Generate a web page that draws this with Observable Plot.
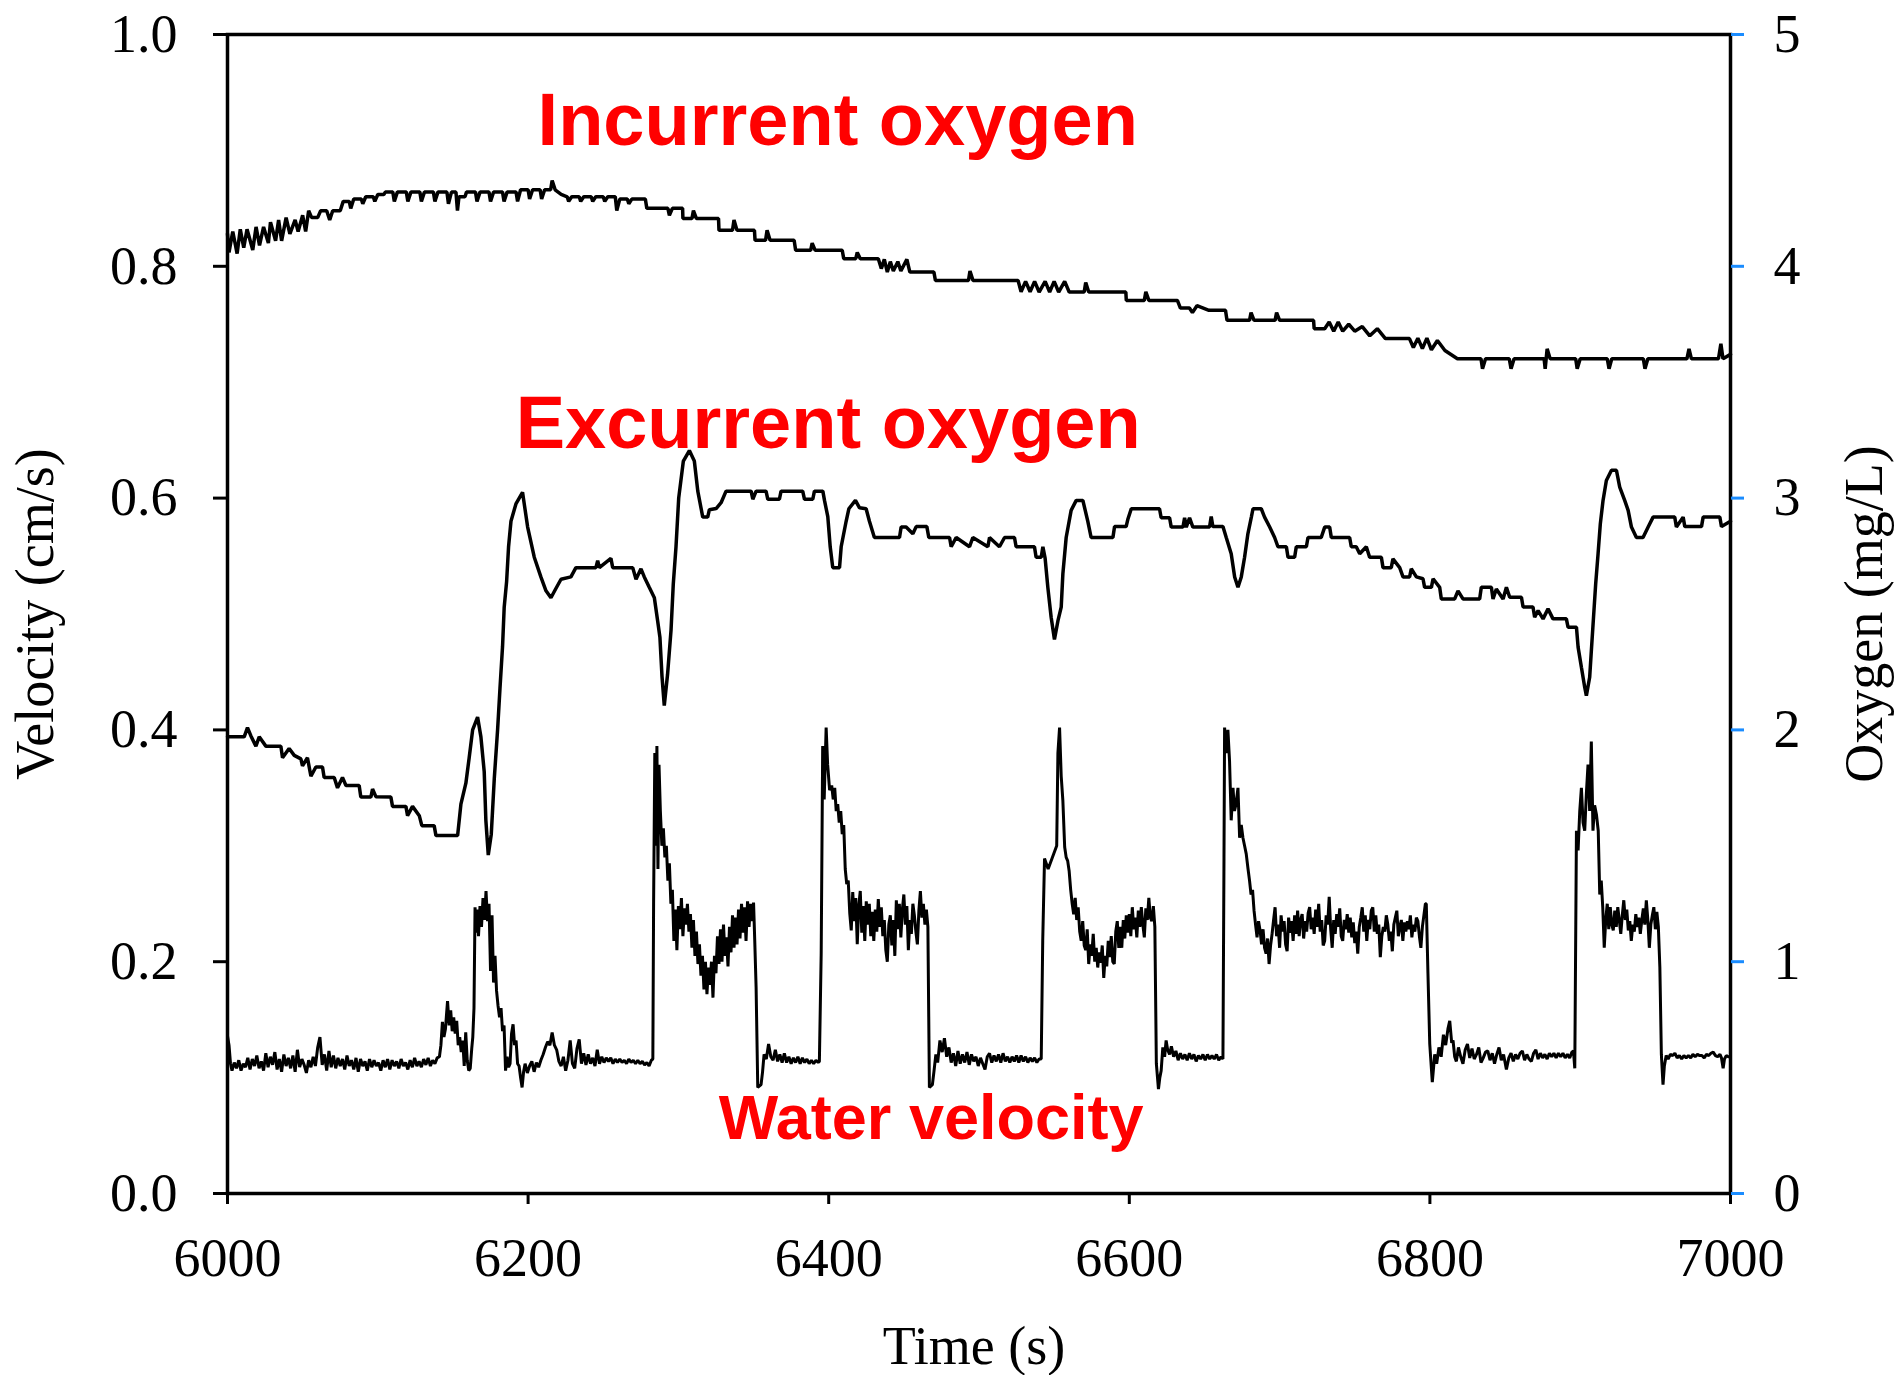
<!DOCTYPE html>
<html>
<head>
<meta charset="utf-8">
<script src="https://cdn.jsdelivr.net/npm/d3@7"></script>
<script src="https://cdn.jsdelivr.net/npm/@observablehq/plot@0.6"></script>
<style>
  html, body { margin: 0; padding: 0; background: #fff; }
  #chart svg { display: block; }
</style>
</head>
<body>
<div id="chart"></div>
<script>
// ---- tick labels ----
const timeTicks = [6000, 6200, 6400, 6600, 6800, 7000];
const velocityTicks = [0, 0.2, 0.4, 0.6, 0.8, 1.0];
const oxygenTicks = [0, 1, 2, 3, 4, 5];

// ---- series: [time (s), value] ----
// Incurrent oxygen (mg/L)
const incurrentOxygen = [
[6000,4.14],[6001,4.06],[6003.5,4.15],[6006.4,4.055],[6008.5,4.16],[6010.8,4.08],[6013,4.16],[6016.8,4.07],[6019,4.17],[6021.3,4.09],
[6024,4.17],[6027.2,4.10],[6028.6,4.19],[6032,4.11],[6034,4.20],[6036,4.11],[6039,4.21],[6041.5,4.14],[6045,4.20],[6047,4.15],
[6050,4.22],[6052,4.15],[6054,4.24],[6056,4.21],[6060,4.21],[6062,4.24],[6066,4.24],[6068,4.20],[6070,4.24],[6075,4.24],
[6077,4.28],[6081,4.28],[6082,4.25],[6084,4.29],[6089,4.29],[6090,4.27],[6092,4.30],[6097,4.30],[6098,4.28],[6100,4.31],
[6104,4.31],[6105,4.32],[6110,4.32],[6111,4.28],[6113,4.32],[6119,4.32],[6120,4.28],[6122,4.32],[6128,4.32],[6129,4.28],
[6131,4.32],[6137,4.32],[6138,4.28],[6140,4.32],[6146,4.32],[6147,4.27],[6149,4.32],[6152,4.32],[6153,4.24],[6154,4.30],
[6158,4.30],[6159,4.32],[6165,4.32],[6166,4.28],[6168,4.32],[6174,4.32],[6175,4.28],[6177,4.32],[6183,4.32],[6184,4.28],
[6186,4.32],[6192,4.32],[6193,4.28],[6195,4.33],[6200,4.33],[6201,4.29],[6203,4.33],[6208,4.33],[6209,4.29],[6211,4.33],
[6215,4.33],[6216,4.37],[6218,4.33],[6222,4.31],[6226,4.30],[6227,4.28],[6229,4.30],[6234,4.30],[6235,4.28],[6237,4.30],
[6242,4.30],[6243,4.28],[6245,4.30],[6250,4.30],[6251,4.28],[6253,4.30],[6258,4.30],[6259,4.24],[6261,4.29],[6266,4.29],
[6267,4.27],[6269,4.29],[6278,4.29],[6279,4.25],[6293,4.25],[6294,4.22],[6296,4.25],[6302.8,4.25],[6303,4.206],[6309,4.206],
[6310,4.24],[6312,4.206],[6326.7,4.206],[6327,4.155],[6336,4.155],[6337,4.20],[6339,4.155],[6350.6,4.155],[6351,4.112],[6358,4.112],
[6359,4.155],[6361,4.112],[6377,4.112],[6378,4.069],[6388,4.069],[6389,4.10],[6391,4.069],[6409,4.069],[6410,4.033],[6418,4.033],
[6419,4.06],[6421,4.033],[6433,4.033],[6435,3.99],[6437,4.03],[6439,3.975],[6441,4.02],[6443,3.98],[6446,4.02],[6448,3.98],
[6452,4.03],[6454,3.975],[6470,3.975],[6471,3.939],[6493,3.939],[6494,3.98],[6496,3.939],[6526,3.939],[6528,3.89],[6531,3.935],
[6534,3.89],[6537,3.935],[6540,3.889],[6544,3.935],[6547,3.889],[6550,3.935],[6553,3.889],[6557,3.935],[6560,3.889],[6570,3.889],
[6571,3.93],[6573,3.889],[6597.7,3.889],[6598,3.853],[6610,3.853],[6611,3.89],[6613,3.853],[6632,3.853],[6634,3.82],[6640,3.82],
[6642,3.80],[6645,3.83],[6653,3.81],[6664,3.81],[6665,3.767],[6680,3.767],[6681,3.80],[6683,3.767],[6697,3.767],[6698,3.80],
[6700,3.767],[6722.6,3.767],[6723,3.731],[6730,3.731],[6733,3.76],[6736,3.72],[6739,3.76],[6742,3.72],[6746,3.75],[6750,3.72],
[6755,3.74],[6760,3.70],[6765,3.731],[6770.4,3.688],[6786.4,3.688],[6789,3.65],[6792,3.69],[6795,3.645],[6798,3.69],[6801,3.64],
[6805,3.68],[6810,3.637],[6818.3,3.601],[6834,3.601],[6835,3.558],[6837,3.601],[6852.8,3.601],[6854,3.558],[6856,3.601],[6876,3.601],
[6876.7,3.558],[6878,3.644],[6880,3.601],[6897,3.601],[6898,3.558],[6900,3.601],[6918,3.601],[6919.2,3.558],[6921,3.601],[6942,3.601],
[6943.1,3.558],[6945,3.601],[6971,3.601],[6972.4,3.644],[6974,3.601],[6992,3.601],[6993.6,3.666],[6995,3.601],[7000,3.62]
];

// Excurrent oxygen (mg/L)
const excurrentOxygen = [
[6000,1.97],[6011.1,1.97],[6013.3,2.01],[6015.5,1.975],[6018.9,1.93],[6021.1,1.97],[6025.5,1.93],[6035.5,1.93],[6036.6,1.88],[6041,1.92],
[6044.4,1.89],[6048.8,1.875],[6049.9,1.845],[6053.2,1.88],[6055.5,1.80],[6058.8,1.84],[6063.2,1.84],[6064.3,1.795],[6071,1.795],[6073.2,1.75],
[6076.5,1.795],[6078.8,1.76],[6087.6,1.76],[6088.7,1.71],[6095.4,1.71],[6096.5,1.745],[6098.7,1.712],[6108.7,1.71],[6109.8,1.67],[6118.7,1.67],
[6119.8,1.63],[6123.1,1.67],[6127.6,1.63],[6129.3,1.587],[6137.5,1.587],[6138.7,1.544],[6153.1,1.544],[6155.3,1.68],[6158.6,1.77],[6160.8,1.88],
[6163.1,2.0],[6166.4,2.055],[6168.6,1.97],[6170.8,1.82],[6171.9,1.61],[6173.5,1.46],[6175.5,1.55],[6177.5,1.79],[6179.7,2.0],[6181.3,2.18],
[6183,2.36],[6184.1,2.53],[6185.7,2.64],[6187,2.79],[6188.6,2.9],[6191.9,2.975],[6196.3,3.025],[6199.7,2.875],[6204.1,2.745],[6208.5,2.66],
[6211.9,2.6],[6215.2,2.57],[6218.5,2.61],[6221.9,2.65],[6228.5,2.66],[6231.8,2.7],[6245.1,2.7],[6246.3,2.73],[6247.4,2.7],[6255.1,2.74],
[6256.3,2.7],[6269.6,2.7],[6271.8,2.65],[6275.1,2.695],[6277.3,2.66],[6280.6,2.615],[6284,2.57],[6286.2,2.47],[6287.7,2.4],[6289.1,2.23],
[6290.6,2.105],[6292.8,2.24],[6295.1,2.43],[6296.6,2.63],[6298.4,2.79],[6300.2,3.0],[6303.3,3.16],[6307.3,3.205],[6310.6,3.16],[6312.9,3.03],
[6316.2,2.918],[6319.5,2.918],[6320.6,2.95],[6325.1,2.955],[6328.4,2.98],[6331.7,3.03],[6348.4,3.03],[6349.5,2.995],[6351.7,3.03],[6358.3,3.03],
[6359.5,2.995],[6367.2,2.995],[6368.3,3.03],[6382.7,3.03],[6383.9,2.995],[6389.4,2.995],[6390.5,3.03],[6396.1,3.03],[6397.2,2.99],[6399.4,2.92],
[6401,2.79],[6402.7,2.7],[6407.2,2.7],[6408.3,2.79],[6411.6,2.9],[6413.4,2.954],[6417.8,2.99],[6420.5,2.958],[6424.9,2.954],[6427.1,2.9],
[6430.4,2.83],[6447.1,2.83],[6448.2,2.875],[6451.5,2.875],[6456,2.846],[6458.2,2.877],[6465.3,2.877],[6466.6,2.83],[6480.4,2.83],[6481.5,2.79],
[6484.8,2.83],[6493.7,2.79],[6495.9,2.83],[6505.9,2.79],[6507,2.83],[6513.6,2.79],[6517,2.83],[6523.6,2.83],[6524.7,2.79],[6536.9,2.79],
[6538,2.745],[6541.4,2.745],[6542.5,2.79],[6544,2.74],[6545.8,2.615],[6548,2.486],[6550.2,2.39],[6552.5,2.47],[6554.7,2.53],[6555.8,2.673],
[6558,2.83],[6561.3,2.947],[6564.7,2.99],[6569.1,2.99],[6572.4,2.9],[6574.6,2.83],[6589.1,2.83],[6590.2,2.877],[6597.9,2.877],[6599.1,2.91],
[6601.3,2.954],[6620.1,2.954],[6621.2,2.915],[6626.8,2.915],[6627.9,2.875],[6635.7,2.875],[6636.8,2.915],[6637.9,2.875],[6640.1,2.915],[6642.3,2.875],
[6653.4,2.875],[6654.5,2.92],[6655.6,2.877],[6662.3,2.877],[6664.5,2.83],[6667.8,2.76],[6670.1,2.66],[6672.3,2.615],[6674.5,2.66],[6676.7,2.745],
[6678.9,2.846],[6681.2,2.918],[6682.3,2.954],[6687.8,2.954],[6690,2.918],[6693.4,2.875],[6696.7,2.83],[6698.9,2.79],[6704.5,2.79],[6705.6,2.745],
[6710,2.745],[6711.1,2.79],[6717.8,2.79],[6718.9,2.83],[6727.7,2.83],[6730,2.875],[6733.3,2.875],[6734.4,2.83],[6746.6,2.83],[6747.7,2.79],
[6751,2.79],[6753.3,2.76],[6757.7,2.79],[6759.9,2.745],[6767.7,2.745],[6768.8,2.7],[6774.3,2.7],[6775.4,2.738],[6779.9,2.7],[6782.1,2.66],
[6786.5,2.66],[6787.6,2.695],[6791,2.66],[6795.4,2.652],[6796.5,2.615],[6801,2.615],[6802.1,2.652],[6806.5,2.615],[6807.6,2.565],[6816.5,2.565],
[6818.7,2.6],[6822,2.565],[6833.1,2.565],[6834.2,2.615],[6840.9,2.615],[6842,2.565],[6844.2,2.608],[6848.7,2.565],[6850.9,2.615],[6853.1,2.572],
[6860.9,2.572],[6862,2.53],[6868.6,2.53],[6869.7,2.486],[6872,2.515],[6875.3,2.479],[6878.6,2.522],[6881.9,2.479],[6890.8,2.479],[6891.9,2.443],
[6897.5,2.443],[6898.6,2.357],[6900.8,2.27],[6903,2.184],[6904.1,2.148],[6906.3,2.227],[6907.4,2.34],[6909,2.5],[6910.3,2.63],[6911.9,2.76],
[6913.4,2.89],[6915.2,2.99],[6917.4,3.076],[6920.8,3.12],[6924.1,3.12],[6926.3,3.047],[6929.6,2.99],[6931.9,2.947],[6934.1,2.875],[6937.4,2.83],
[6941.8,2.83],[6945.2,2.875],[6948.5,2.918],[6962.9,2.918],[6964,2.875],[6968.5,2.918],[6969.6,2.877],[6980.7,2.877],[6981.8,2.918],[6992.9,2.918],
[6994,2.877],[7000,2.9]
];

// Water velocity (cm/s)
const waterVelocity = [
[6000,0.136],[6001,0.128],[6002,0.112],[6003,0.106],[6004.5,0.113],[6006,0.108],[6007.5,0.115],[6009,0.106],[6010.5,0.112],[6012,0.109],
[6013.5,0.117],[6015,0.107],[6016.5,0.116],[6018,0.110],[6019.5,0.119],[6021,0.108],[6022.5,0.114],[6024,0.106],[6025.5,0.121],[6027,0.109],
[6028.5,0.118],[6030,0.111],[6031.5,0.122],[6033,0.107],[6034.5,0.116],[6036,0.105],[6037.5,0.120],[6039,0.110],[6040.5,0.117],[6042,0.108],
[6043.5,0.119],[6045,0.105],[6046.5,0.124],[6048,0.109],[6049.5,0.116],[6051,0.111],[6052.5,0.104],[6054,0.115],[6055.5,0.109],[6057,0.118],
[6058.5,0.110],[6060,0.126],[6061.5,0.135],[6063,0.111],[6064.5,0.120],[6066,0.106],[6067.5,0.123],[6069,0.109],[6070.5,0.119],[6072,0.108],
[6073.5,0.117],[6075,0.110],[6076.5,0.116],[6078,0.107],[6079.5,0.119],[6081,0.110],[6082.5,0.115],[6084,0.107],[6085.5,0.117],[6087,0.105],
[6088.5,0.116],[6090,0.110],[6091.5,0.114],[6093,0.106],[6094.5,0.116],[6096,0.109],[6097.5,0.115],[6099,0.110],[6100.5,0.113],[6102,0.106],
[6103.5,0.115],[6105,0.109],[6106.5,0.116],[6108,0.107],[6109.5,0.115],[6111,0.110],[6112.5,0.114],[6114,0.108],[6115.5,0.116],[6117,0.110],
[6118.5,0.113],[6120,0.107],[6121.5,0.115],[6123,0.109],[6124.5,0.117],[6126,0.110],[6127.5,0.114],[6129,0.109],[6130.5,0.116],[6132,0.111],
[6133.5,0.117],[6135,0.110],[6136.5,0.115],[6138,0.112],[6139.5,0.117],[6141,0.118],
[6142,0.128],[6143,0.148],[6144,0.135],[6145,0.142],[6146.4,0.166],[6147.5,0.145],[6148.5,0.158],[6149.5,0.140],[6150.5,0.152],[6151.5,0.138],
[6152.5,0.149],[6153.5,0.128],[6154.5,0.135],[6155.5,0.122],[6156.5,0.132],[6157.5,0.110],[6158.5,0.139],[6159.5,0.115],[6160.5,0.106],[6161.5,0.108],
[6162.5,0.125],[6163.2,0.135],[6164,0.160],[6164.7,0.247],[6165.5,0.225],[6166.3,0.245],[6167,0.222],[6168,0.248],[6169,0.230],[6170,0.255],
[6171,0.236],[6172,0.261],[6173,0.235],[6174,0.250],[6175,0.192],[6176,0.240],[6177,0.182],[6178,0.205],[6179,0.175],[6180,0.162],
[6181,0.152],[6182,0.160],[6183,0.140],[6184,0.145],[6185,0.106],[6186,0.118],[6187,0.109],[6188,0.112],[6189,0.138],[6190,0.146],
[6191,0.128],[6192,0.132],[6193,0.112],[6194,0.110],[6195,0.100],[6196,0.0915],[6197,0.105],[6198,0.112],[6199.5,0.104],[6201,0.110],
[6202.5,0.114],[6204,0.105],[6205.5,0.113],[6207,0.109],[6208.5,0.115],[6210,0.120],[6211.5,0.126],[6213,0.131],[6214.5,0.128],[6216,0.139],
[6217.5,0.128],[6219,0.124],[6220.5,0.114],[6222,0.110],[6223.5,0.118],[6225,0.106],[6226.5,0.115],[6228,0.132],[6229.5,0.112],[6231,0.108],
[6232.5,0.125],[6234,0.133],[6235.5,0.112],[6237,0.121],[6238.5,0.111],[6240,0.120],[6241.5,0.112],[6243,0.117],[6244.5,0.110],[6246,0.124],
[6247.5,0.112],[6249,0.118],[6250.5,0.113],[6252,0.117],[6253.5,0.114],[6255,0.117],[6256.5,0.112],[6258,0.116],[6259.5,0.113],[6261,0.116],
[6262.5,0.113],[6264,0.115],[6265.5,0.112],[6267,0.116],[6268.5,0.113],[6270,0.115],[6271.5,0.112],[6273,0.115],[6274.5,0.112],[6276,0.114],
[6277.5,0.111],[6279,0.113],[6280.5,0.110],[6282,0.115],[6283,0.116],
[6283.5,0.25],[6284.3,0.38],[6285,0.30],[6285.7,0.386],[6286.4,0.28],[6287.1,0.37],[6288,0.33],[6289,0.30],[6290,0.315],[6291,0.29],
[6292,0.30],[6293,0.27],[6294,0.285],[6295,0.25],[6296,0.262],[6297,0.218],[6298,0.245],[6299,0.210],[6300,0.248],[6301,0.228],
[6302,0.255],[6303,0.222],[6304,0.246],[6305,0.232],[6306,0.250],[6307,0.226],[6308,0.241],[6309,0.212],[6310,0.236],[6311,0.205],
[6312,0.226],[6313,0.198],[6314,0.215],[6315,0.188],[6316,0.205],[6317,0.176],[6318,0.200],[6319,0.172],[6320,0.195],[6321,0.180],
[6322,0.200],[6323,0.169],[6324,0.205],[6325,0.190],[6326,0.222],[6327,0.198],[6328,0.228],[6329,0.200],[6330,0.232],[6331,0.205],
[6332,0.221],[6333,0.196],[6334,0.230],[6335,0.208],[6336,0.240],[6337,0.212],[6338,0.238],[6339,0.215],[6340,0.245],[6341,0.220],
[6342,0.250],[6343,0.225],[6344,0.247],[6345,0.218],[6346,0.252],[6347,0.230],[6348,0.250],[6349,0.235],[6350,0.251],[6350.8,0.218],
[6351.7,0.178],[6352.8,0.0915],
[6355,0.094],[6356,0.105],[6357,0.120],[6358.5,0.116],[6360,0.129],[6361.5,0.118],[6363,0.115],[6364.5,0.124],[6366,0.114],[6367.5,0.120],
[6369,0.113],[6370.5,0.121],[6372,0.113],[6373.5,0.118],[6375,0.112],[6376.5,0.117],[6378,0.113],[6379.5,0.118],[6381,0.112],[6382.5,0.117],
[6384,0.113],[6385.5,0.116],[6387,0.112],[6388.5,0.115],[6390,0.112],[6391.5,0.115],[6393,0.113],[6393.8,0.114],
[6395,0.207],[6396,0.386],[6397,0.340],[6398.3,0.402],[6399.3,0.37],[6400.6,0.348],[6402,0.352],[6403,0.340],[6404,0.35],[6405,0.33],
[6406,0.336],[6407,0.32],[6408,0.33],[6409,0.31],[6410,0.318],[6411,0.28],[6412,0.267],[6413,0.27],[6414,0.242],[6415,0.227],
[6416,0.26],[6417,0.235],[6418,0.255],[6419,0.215],[6420,0.248],[6421,0.261],[6422,0.225],[6423,0.248],[6424,0.218],[6425,0.252],
[6426,0.232],[6427,0.25],[6428,0.222],[6429,0.243],[6430,0.218],[6431,0.245],[6432,0.226],[6433,0.254],[6434,0.230],[6435,0.247],
[6436,0.222],[6437,0.236],[6438,0.210],[6439,0.200],[6440,0.232],[6441,0.240],[6442,0.214],[6443,0.236],[6444,0.205],[6445,0.253],
[6446,0.228],[6447,0.250],[6448,0.221],[6449,0.245],[6450,0.258],[6451,0.232],[6452,0.248],[6453,0.210],[6454,0.236],[6455,0.224],
[6456,0.250],[6457,0.240],[6458,0.226],[6459,0.215],[6460,0.244],[6461,0.261],[6462,0.238],[6463,0.250],[6464,0.232],[6465,0.245],
[6466,0.230],[6467,0.0915],
[6469,0.094],[6470,0.105],[6471.3,0.120],[6472.5,0.113],[6474,0.132],[6475.5,0.122],[6477,0.134],[6478.5,0.118],[6480,0.126],[6481.5,0.113],
[6483,0.121],[6484.5,0.110],[6486,0.123],[6487.5,0.112],[6489,0.120],[6490.5,0.113],[6492,0.122],[6493.5,0.111],[6495,0.120],[6496.5,0.114],
[6498,0.118],[6499.5,0.110],[6501,0.117],[6502.5,0.112],[6504,0.107],[6505.5,0.118],[6507,0.121],[6508.5,0.113],[6510,0.119],[6511.5,0.114],
[6513,0.120],[6514.5,0.113],[6516,0.121],[6517.5,0.114],[6519,0.118],[6520.5,0.113],[6522,0.118],[6523.5,0.114],[6525,0.119],[6526.5,0.113],
[6528,0.119],[6529.5,0.114],[6531,0.118],[6532.5,0.113],[6534,0.117],[6535.5,0.114],[6537,0.117],[6538.5,0.113],[6540,0.116],[6541.4,0.116],
[6542.4,0.218],[6543.6,0.289],[6546,0.28],[6551.7,0.30],[6552.5,0.38],[6553.6,0.402],[6554.7,0.36],[6555.8,0.339],
[6557,0.299],[6558,0.29],[6559,0.287],[6560,0.278],[6561,0.262],[6562,0.25],[6563,0.241],[6564,0.255],[6565,0.236],[6566,0.247],
[6567,0.226],[6568,0.218],[6569,0.235],[6570,0.214],[6571,0.210],[6572,0.228],[6573,0.198],[6574,0.215],[6575,0.205],[6576,0.224],
[6577,0.200],[6578,0.212],[6579,0.195],[6580,0.208],[6581,0.199],[6582,0.214],[6583,0.186],[6584,0.205],[6585,0.196],[6586,0.218],
[6587,0.204],[6588,0.222],[6589,0.200],[6590,0.198],[6591,0.226],[6592,0.235],[6593,0.212],[6594,0.230],[6595,0.212],[6596,0.236],
[6597,0.220],[6598,0.240],[6599,0.225],[6600,0.241],[6601,0.222],[6602,0.247],[6603,0.228],[6604,0.238],[6605,0.221],[6606,0.244],
[6607,0.230],[6608,0.247],[6609,0.232],[6610,0.221],[6611,0.246],[6612,0.236],[6613,0.255],[6614,0.238],[6615,0.235],[6616,0.248],
[6617,0.230],[6618,0.112],
[6619.4,0.090],[6620.3,0.100],[6621.2,0.106],[6622.3,0.126],[6623.5,0.118],[6624.5,0.132],[6625.5,0.124],[6626.8,0.120],[6628,0.127],[6629.5,0.118],
[6631,0.123],[6632.5,0.115],[6634,0.121],[6635.5,0.116],[6637,0.120],[6638.5,0.115],[6640,0.121],[6641.5,0.116],[6643,0.120],[6644.5,0.114],
[6646,0.119],[6647.5,0.116],[6649,0.120],[6650.5,0.115],[6652,0.120],[6653.5,0.116],[6655,0.119],[6656.5,0.116],[6658,0.120],[6659.5,0.115],
[6661,0.118],[6662.3,0.116],
[6663,0.290],[6663.4,0.402],[6664.5,0.38],[6665.6,0.40],[6666.7,0.373],[6667.8,0.322],[6669,0.350],[6670,0.330],[6671,0.336],[6672.3,0.350],
[6673.4,0.307],[6674.5,0.318],[6675.6,0.307],[6676.7,0.30],[6677.8,0.293],[6679,0.280],[6680,0.270],[6681,0.258],[6682,0.262],[6683,0.244],
[6684,0.232],[6685,0.221],[6686,0.235],[6687,0.227],[6688,0.215],[6689,0.228],[6690,0.212],[6691,0.207],[6692,0.220],[6693,0.198],
[6694,0.214],[6695,0.224],[6696,0.236],[6697,0.247],[6698,0.222],[6699,0.232],[6700,0.212],[6701,0.240],[6702,0.226],[6703,0.235],
[6704,0.215],[6705,0.209],[6706,0.238],[6707,0.225],[6708,0.235],[6709,0.218],[6710,0.240],[6711,0.224],[6712,0.244],[6713,0.222],
[6714,0.236],[6715,0.241],[6716,0.220],[6717,0.235],[6718,0.226],[6719,0.242],[6720,0.247],[6721,0.228],[6722,0.238],[6723,0.224],
[6724,0.245],[6725,0.230],[6726,0.250],[6727,0.226],[6728,0.236],[6729,0.214],[6730,0.218],[6731,0.240],[6732,0.232],[6733,0.256],
[6734,0.228],[6735,0.212],[6736,0.236],[6737,0.224],[6738,0.241],[6739,0.230],[6740,0.246],[6741,0.222],[6742,0.218],[6743,0.236],
[6744,0.228],[6745,0.241],[6746,0.225],[6747,0.238],[6748,0.221],[6749,0.234],[6750,0.216],[6751,0.226],[6752,0.207],[6753,0.230],
[6754,0.238],[6755,0.247],[6756,0.226],[6757,0.240],[6758,0.218],[6759,0.236],[6760,0.228],[6761,0.244],[6762,0.247],[6763,0.226],
[6764,0.240],[6765,0.224],[6766,0.232],[6767,0.204],[6768,0.222],[6769,0.230],[6770,0.226],[6771,0.240],[6772,0.232],[6773,0.218],
[6774,0.226],[6775,0.209],[6776,0.232],[6777,0.238],[6778,0.244],[6779,0.222],[6780,0.230],[6781,0.236],[6782,0.218],[6783,0.234],
[6784,0.226],[6785,0.235],[6786,0.228],[6787,0.240],[6788,0.221],[6789,0.232],[6790,0.226],[6791,0.238],[6792,0.235],[6793,0.222],
[6794,0.212],[6795,0.230],[6796,0.240],[6797,0.250],[6797.6,0.250],[6798.7,0.190],[6799.9,0.129],
[6801.6,0.096],[6803.2,0.120],[6804.5,0.112],[6806,0.126],[6807.5,0.118],[6809,0.137],[6810.5,0.128],[6812,0.142],[6813.2,0.149],[6814.5,0.130],
[6815.4,0.132],[6816.5,0.118],[6817.6,0.114],[6819,0.126],[6820.5,0.118],[6822,0.112],[6823.5,0.124],[6825,0.129],[6826.5,0.117],[6828,0.125],
[6829.5,0.116],[6831,0.120],[6832.5,0.126],[6834,0.113],[6835.5,0.117],[6837,0.122],[6838.5,0.123],[6840,0.115],[6841.5,0.121],[6843,0.112],
[6844.5,0.120],[6846,0.126],[6847.5,0.115],[6849,0.120],[6850.9,0.107],[6852.5,0.117],[6854,0.121],[6855.5,0.114],[6857,0.120],[6858.5,0.116],
[6860,0.121],[6861.5,0.123],[6863,0.115],[6864.5,0.120],[6866,0.116],[6867.5,0.114],[6869,0.121],[6870.5,0.124],[6872,0.116],[6873.5,0.121],
[6875,0.117],[6876.5,0.120],[6878,0.116],[6879.5,0.121],[6881,0.118],[6882.5,0.121],[6884,0.117],[6885.5,0.121],[6887,0.118],[6888.5,0.121],
[6890,0.117],[6891.5,0.120],[6893,0.117],[6894.5,0.122],[6895.5,0.123],[6896.4,0.108],
[6897.5,0.313],[6898.6,0.296],[6899.7,0.330],[6900.8,0.350],[6901.9,0.320],[6903,0.313],[6904.1,0.345],[6905.2,0.370],[6906.3,0.330],[6907.4,0.390],
[6908.5,0.313],[6909.6,0.335],[6910.8,0.327],[6912,0.313],[6913,0.258],[6914,0.270],[6915,0.247],[6916,0.212],[6917,0.236],[6918,0.250],
[6919,0.228],[6920,0.247],[6921,0.232],[6922,0.227],[6923,0.244],[6924,0.230],[6925,0.247],[6926,0.236],[6927,0.224],[6928,0.240],
[6929,0.253],[6930,0.236],[6931,0.245],[6932,0.227],[6933,0.235],[6934,0.218],[6935,0.232],[6936,0.226],[6937,0.241],[6938,0.230],
[6939,0.238],[6940,0.224],[6941,0.236],[6942,0.246],[6943,0.232],[6944,0.253],[6945,0.236],[6946,0.212],[6947,0.232],[6948,0.240],
[6949,0.247],[6950,0.228],[6951,0.243],[6952,0.230],[6953,0.195],[6954,0.120],
[6955.1,0.094],[6956,0.110],[6957.2,0.119],[6958.5,0.116],[6960,0.120],[6961.5,0.119],[6963,0.121],[6964.5,0.117],[6966,0.119],[6967.5,0.116],
[6969,0.119],[6970.5,0.117],[6972,0.119],[6973.5,0.117],[6975,0.120],[6976.5,0.118],[6978,0.120],[6979.5,0.119],[6981,0.119],[6982.5,0.117],
[6984,0.120],[6985.5,0.119],[6987,0.121],[6988.5,0.122],[6990,0.119],[6991.5,0.118],[6993,0.120],[6994,0.117],[6995.1,0.108],[6996,0.116],
[6997.2,0.119],[6998.5,0.118],[7000,0.118]
];

// ---- chart ----
const serif = "'Liberation Serif', 'Times New Roman', serif";
const sans = "'Liberation Sans', Arial, sans-serif";
const oxygenPerVelocity = 5; // right axis 0..5 mg/L shares the 0..1 cm/s frame

const chart = Plot.plot({
  width: 1902,
  height: 1375,
  marginLeft: 227,
  marginRight: 172,
  marginTop: 34,
  marginBottom: 182,
  style: {fontFamily: serif, fontSize: "54px", background: "#ffffff", color: "#000000", overflow: "visible"},
  x: {domain: [6000, 7000], axis: null},
  y: {domain: [0, 1], axis: null},
  marks: [
    Plot.frame({stroke: "#000", strokeWidth: 3.5}),
    Plot.axisX(timeTicks, {anchor: "bottom", tickSize: 11, tickPadding: 33, strokeWidth: 3, fontSize: 54, fontFamily: serif, tickFormat: d3.format("d"), label: null}),
    Plot.axisY(velocityTicks, {anchor: "left", tickSize: 14, tickPadding: 36, strokeWidth: 3, fontSize: 54, fontFamily: serif, tickFormat: d3.format(".1f"), label: null}),
    Plot.axisY(oxygenTicks.map(o => o / oxygenPerVelocity), {anchor: "right", tickSize: 13, tickPadding: 30, strokeWidth: 3, stroke: "#1a8cff", fill: "#000", fontSize: 54, fontFamily: serif, tickFormat: v => String(Math.round(v * oxygenPerVelocity)), label: null}),
    Plot.line(incurrentOxygen, {x: d => d[0], y: d => d[1] / oxygenPerVelocity, stroke: "#000", strokeWidth: 3.5, strokeLinejoin: "miter"}),
    Plot.line(excurrentOxygen, {x: d => d[0], y: d => d[1] / oxygenPerVelocity, stroke: "#000", strokeWidth: 3.5, strokeLinejoin: "miter"}),
    Plot.line(waterVelocity, {x: d => d[0], y: d => d[1], stroke: "#000", strokeWidth: 3, strokeLinejoin: "miter"}),
    Plot.text(["Incurrent oxygen"], {text: d => d, x: 6206.3, y: 0.9045, textAnchor: "start", lineAnchor: "bottom", fill: "#ff0000", fontFamily: sans, fontWeight: "bold", fontSize: 74}),
    Plot.text(["Excurrent oxygen"], {text: d => d, x: 6191.7, y: 0.643, textAnchor: "start", lineAnchor: "bottom", fill: "#ff0000", fontFamily: sans, fontWeight: "bold", fontSize: 74}),
    Plot.text(["Water velocity"], {text: d => d, x: 6326.8, y: 0.0472, textAnchor: "start", lineAnchor: "bottom", fill: "#ff0000", fontFamily: sans, fontWeight: "bold", fontSize: 63}),
    Plot.text(["Velocity (cm/s)"], {text: d => d, frameAnchor: "left", rotate: -90, dx: -192, textAnchor: "middle", lineAnchor: "middle", fill: "#000", fontFamily: serif, fontSize: 54}),
    Plot.text(["Oxygen (mg/L)"], {text: d => d, frameAnchor: "right", rotate: -90, dx: 134, textAnchor: "middle", lineAnchor: "middle", fill: "#000", fontFamily: serif, fontSize: 54}),
    Plot.text(["Time (s)"], {text: d => d, frameAnchor: "bottom", dy: 153, dx: -5, textAnchor: "middle", lineAnchor: "middle", fill: "#000", fontFamily: serif, fontSize: 54})
  ]
});
document.getElementById("chart").appendChild(chart);
</script>
</body>
</html>
